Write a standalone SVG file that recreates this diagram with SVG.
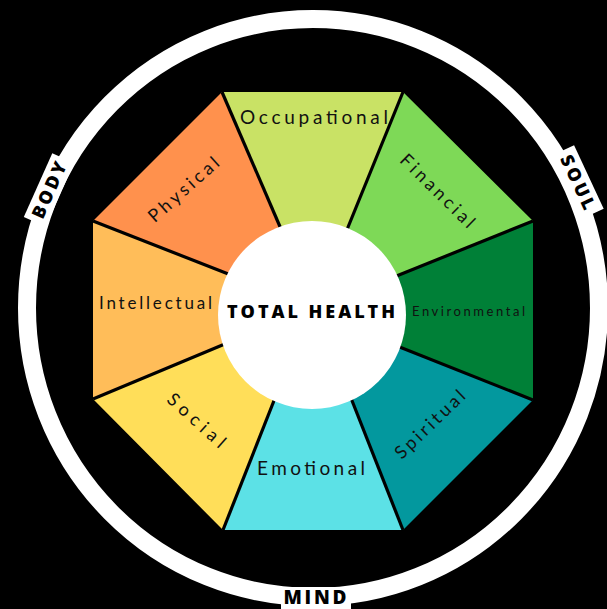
<svg xmlns="http://www.w3.org/2000/svg" width="607" height="609" viewBox="0 0 607 609">
<style>
.lbl{font-family:Lato,"Open Sans","Liberation Sans",sans-serif;font-size:18px;fill:#111;text-anchor:middle}
.ring{font-family:"Open Sans","Liberation Sans",sans-serif;font-weight:800;font-size:18px;fill:#000;text-anchor:middle}
.spoke{stroke:#000;stroke-width:3.2;fill:none;stroke-linecap:butt}
</style>
<rect width="607" height="609" fill="#000"/>
<g id="outer-ring">
<ellipse cx="313" cy="308" rx="286" ry="289" fill="none" stroke="#fff" stroke-width="18"/>
</g>
<g id="label-body">
<g transform="translate(49,190) rotate(-66)">
<rect x="-35" y="-12" width="70" height="24" fill="#fff"/>
<text class="ring" x="0" y="6.5" textLength="60" lengthAdjust="spacing">BODY</text>
</g>
</g>
<g id="label-soul">
<g transform="translate(578,182) rotate(65)">
<rect x="-35" y="-12" width="70" height="24" fill="#fff"/>
<text class="ring" x="0" y="6.5" textLength="58" lengthAdjust="spacing">SOUL</text>
</g>
</g>
<g id="label-mind">
<rect x="281" y="587" width="70" height="26" fill="#fff"/>
<text class="ring" x="315" y="603.5" style="font-size:19px" textLength="63" lengthAdjust="spacing">MIND</text>
</g>
<g id="occupational">
<polygon points="222,92 403,92 348,228 313,311 280,227" fill="#C9E265"/>
<text class="lbl" x="314" y="124" style="font-size:19px" textLength="148" lengthAdjust="spacing">Occupational</text>
</g>
<g id="financial">
<polygon points="403,92 533,221 398,275 313,311 348,228" fill="#7ED957"/>
<text class="lbl" transform="translate(433.3,195.3) rotate(44.5)" x="0" y="0" textLength="97" lengthAdjust="spacing">Financial</text>
</g>
<g id="environmental">
<polygon points="533,221 533,400 401,348 313,311 398,275" fill="#008037"/>
<text class="lbl" x="468.5" y="316" style="font-size:13px" textLength="113" lengthAdjust="spacing">Environmental</text>
</g>
<g id="spiritual">
<polygon points="533,400 403,530 353,402 313,311 401,348" fill="#03989E"/>
<text class="lbl" transform="translate(434.2,428.8) rotate(-44)" x="0" y="0" textLength="90" lengthAdjust="spacing">Spiritual</text>
</g>
<g id="emotional">
<polygon points="403,530 223,530 273,402 313,311 353,402" fill="#5CE1E6"/>
<text class="lbl" x="311" y="475" style="font-size:19px" textLength="108" lengthAdjust="spacing">Emotional</text>
</g>
<g id="social">
<polygon points="223,530 93,399 223,344 313,311 273,402" fill="#FFDE59"/>
<text class="lbl" transform="translate(192.5,425) rotate(42)" x="0" y="0" textLength="72" lengthAdjust="spacing">Social</text>
</g>
<g id="intellectual">
<polygon points="93,399 93,221 227,273 313,311 223,344" fill="#FFBD59"/>
<text class="lbl" x="155.5" y="309" style="font-size:17px" textLength="113" lengthAdjust="spacing">Intellectual</text>
</g>
<g id="physical">
<polygon points="93,221 222,92 280,227 313,311 227,273" fill="#FF914D"/>
<text class="lbl" transform="translate(187.7,194.2) rotate(-41.5)" x="0" y="0" textLength="88" lengthAdjust="spacing">Physical</text>
</g>
<g id="connectors">
<line class="spoke" x1="222" y1="92" x2="284" y2="236"/>
<line class="spoke" x1="403" y1="92" x2="344" y2="237"/>
<line class="spoke" x1="533" y1="221" x2="389" y2="279"/>
<line class="spoke" x1="533" y1="400" x2="392" y2="344"/>
<line class="spoke" x1="403" y1="530" x2="349" y2="393"/>
<line class="spoke" x1="223" y1="530" x2="277" y2="393"/>
<line class="spoke" x1="93" y1="399" x2="232" y2="341"/>
<line class="spoke" x1="93" y1="221" x2="236" y2="277"/>
</g>
<g id="total-health">
<circle cx="312" cy="315" r="94" fill="#fff"/>
<text x="311" y="317.5" font-family="'Open Sans','Liberation Sans',sans-serif" font-weight="800" font-size="18" fill="#000" text-anchor="middle" textLength="168" lengthAdjust="spacing">TOTAL HEALTH</text>
</g>
</svg>
